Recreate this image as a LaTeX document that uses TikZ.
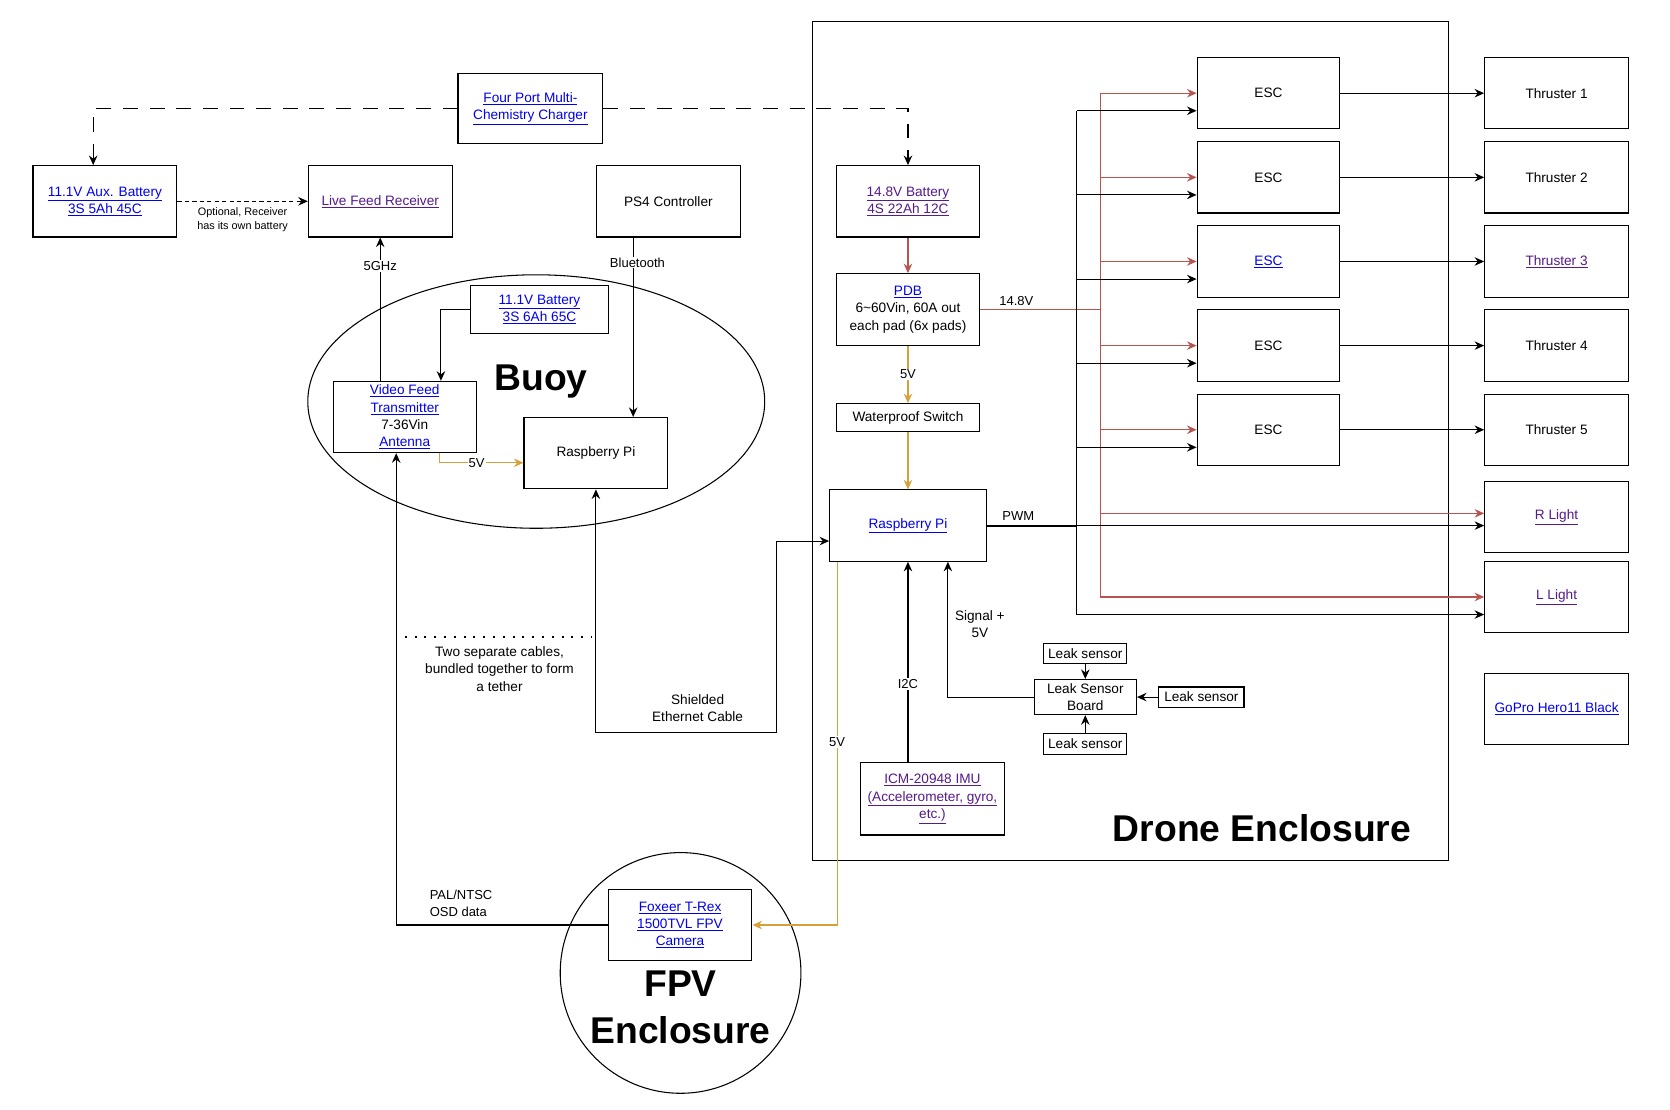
\documentclass[tikz,border=0pt]{standalone}
\usepackage{fontspec}
\setmainfont{Liberation Sans}
\usetikzlibrary{arrows.meta}
\usetikzlibrary{positioning}
\usetikzlibrary{shapes.geometric}

\definecolor{lnkblue}{HTML}{0000EE}
\definecolor{lnkvis}{HTML}{551A8B}
\definecolor{pwrred}{HTML}{B85450}
\definecolor{fiveorange}{HTML}{D6A13A}
\newcommand{\lk}[1]{\textcolor{lnkblue}{\underline{#1}}}
\newcommand{\vlk}[1]{\textcolor{lnkvis}{\underline{#1}}}
\newcommand{\boxfont}{\fontsize{12.8}{16.3}\selectfont}
\newcommand{\lblfont}{\fontsize{12.2}{15.5}\selectfont}
\newcommand{\tinyfont}{\fontsize{10.2}{13}\selectfont}
\newcommand{\bigfont}{\fontsize{35}{44}\selectfont\bfseries}

\tikzset{
  part/.style={draw,fill=white,line width=1pt,minimum width=135pt,minimum height=67pt,align=center,inner sep=1pt,font=\boxfont},
  leak/.style={part,minimum width=78pt,minimum height=19pt},
  wire/.style={line width=1pt,->},
  pwrwire/.style={wire,draw=pwrred},
  fivewire/.style={wire,draw=fiveorange},
  chgline/.style={wire,line width=1.2pt,dash pattern=on 14pt off 11pt},
  optline/.style={wire,dash pattern=on 4pt off 3pt},
  lbl/.style={fill=white,inner sep=1pt,font=\lblfont},
}

\begin{document}
\begin{tikzpicture}[x=1pt,y=-1pt,>={Stealth[length=9pt,width=8pt,inset=3pt]}]
\useasboundingbox (0,0) rectangle (1568,1042);

\node[draw,line width=1pt,minimum width=597pt,minimum height=788pt,inner sep=0] (drone) at (1061.5,414) {};
\node[draw,ellipse,line width=1pt,minimum width=429pt,minimum height=238pt,inner sep=0] (buoy) at (503.5,377) {};
\node[draw,circle,line width=1pt,minimum size=226pt,inner sep=0] (fpvenc) at (639,913.5) {};
\node[font=\bigfont] (buoytxt) at (508,358) {Buoy};
\node[font=\bigfont] (dronetxt) at (1185,778) {Drone Enclosure};
\node[font=\bigfont,align=center] (fpvtxt) at (639,946) {FPV\\Enclosure};

\node[part] (aux) at (98.5,189) {\lk{11.1V Aux. Battery}\\\lk{3S 5Ah 45C}};
\node[part] (rcv) at (357,189) {\vlk{Live Feed Receiver}};
\node[part,minimum width=136pt,minimum height=66pt] (chg) at (498,102) {\lk{Four Port Multi-}\\\lk{Chemistry Charger}};
\node[part] (ps4) at (627.5,189) {PS4 Controller};
\node[part,minimum width=129pt,minimum height=45pt] (bbat) at (506.5,290.5) {\lk{11.1V Battery}\\\lk{3S 6Ah 65C}};
\node[part,minimum width=134pt] (vtx) at (380,391.5) {\lk{Video Feed}\\\lk{Transmitter}\\7-36Vin\\\lk{Antenna}};
\node[part] (bpi) at (559.5,425.5) {Raspberry Pi};
\node[part] (cam) at (638.5,868.5) {\lk{Foxeer T-Rex}\\\lk{1500TVL FPV}\\\lk{Camera}};

\node[part] (dbat) at (852.5,189) {\vlk{14.8V Battery}\\\vlk{4S 22Ah 12C}};
\node[part] (pdb) at (852.5,290.5) {\lk{PDB}\\6\textasciitilde60Vin, 60A out\\each pad (6x pads)};
\node[part,minimum height=26pt] (wsw) at (852.5,392) {Waterproof Switch};
\node[part,minimum width=147pt] (dpi) at (852.5,493.5) {\lk{Raspberry Pi}};
\node[part,minimum height=68pt] (imu) at (875.5,750) {\vlk{ICM-20948 IMU}\\\vlk{(Accelerometer, gyro,}\\\vlk{etc.)}};
\node[part,minimum width=96pt,minimum height=33pt] (lsb) at (1019,654.5) {Leak Sensor\\Board};
\node[leak] (lsT) at (1019,613.5) {Leak sensor};
\node[leak,minimum width=80pt] (lsR) at (1128,654.5) {Leak sensor};
\node[leak] (lsB) at (1019,698.5) {Leak sensor};

\foreach \i/\yy/\esctxt/\thrtxt in {1/87.5/ESC/Thruster 1,2/166.5/ESC/Thruster 2,3/245.5/{\lk{ESC}}/{\vlk{Thruster 3}},4/324.5/ESC/Thruster 4,5/403.5/ESC/Thruster 5}{
  \node[part,minimum width=134pt] (esc\i) at (1191,\yy) {\esctxt};
  \node[part] (thr\i) at (1461.5,\yy) {\thrtxt};
  \coordinate (sig\i) at ([yshift=-16.5pt]esc\i.west);
  \draw[wire] (esc\i.east) -- (thr\i.west);
}
\node[part] (rlt) at (1461.5,485.5) {\vlk{R Light}};
\node[part] (llt) at (1461.5,560.5) {\vlk{L Light}};
\node[part] (gopro) at (1461.5,665.5) {\lk{GoPro Hero11 Black}};

% charger and top side
\draw[chgline] (chg.west) -| ([xshift=-11pt]aux.north);
\draw[chgline] (chg.east) -| (dbat.north);
\draw[optline] (aux.east) -- (rcv.west) node[midway,below=2pt,font=\tinyfont,align=center] {Optional, Receiver\\has its own battery};

% buoy
\coordinate (btin) at ([xshift=35pt]bpi.north);
\coordinate (vtxpwr) at ([xshift=33pt]vtx.south);
\coordinate (bpipwr) at ([yshift=-9pt]bpi.west);
\draw[wire] (vtx.north -| rcv.south) -- (rcv.south) node[lbl,pos=0.8] {5GHz};
\draw[wire] (bbat.west) -| ([xshift=34pt]vtx.north);
\draw[wire] (btin |- ps4.south) -- (btin) node[lbl,pos=0.14,xshift=4pt] {Bluetooth};
\draw[fivewire] (vtxpwr) |- (bpipwr) node[lbl,pos=0.72] {5V};

% tether
\coordinate (tbend) at (729,688);
\draw[wire,<->] (bpi.south) |- (tbend) |- ([yshift=-14.5pt]dpi.west);
\node[font=\boxfont,align=center] (ethlbl) at (655,665) {Shielded\\Ethernet Cable};
\draw[wire] (cam.west) -| ([xshift=-8pt]vtx.south);
\node[font=\lblfont,align=left,anchor=south west] (osdlbl) at (400,864) {PAL/NTSC\\OSD data};
\draw[line width=2pt,dash pattern=on 2pt off 7.2pt] (380,598) -- (555,598);
\node[font=\boxfont,align=center] (tetherlbl) at (469,628) {Two separate cables,\\bundled together to form\\a tether};
\draw[fivewire] ([xshift=-66.5pt]dpi.south) |- (cam.east) node[lbl,pos=0.248] {5V};

% drone power chain
\draw[pwrwire] (dbat.south) -- (pdb.north);
\draw[fivewire] (pdb.south) -- (wsw.north) node[lbl,midway] {5V};
\draw[fivewire] (wsw.south) -- (dpi.north);

% buses
\coordinate (redbus) at (1033,293);
\coordinate (blkbus) at (1011,493.5);
\coordinate (sigL) at ([yshift=-16.5pt]llt.west);
\coordinate (pwrR) at ([yshift=3.5pt]rlt.west);
\draw[pwrwire,-] (pdb.east) -- (pdb.east -| redbus) node[above,pos=0.3,font=\lblfont] {14.8V};
\draw[pwrwire,-] (redbus |- esc1.west) -- (redbus |- llt.west);
\draw[line width=1.2pt] (blkbus |- sig1) -- (blkbus |- sigL);
\draw[line width=2pt] (dpi.east) -- (dpi.east -| blkbus) node[above,pos=0.35,font=\lblfont] {PWM};
\foreach \i in {1,...,5}{
  \draw[pwrwire] (redbus |- esc\i.west) -- (esc\i.west);
  \draw[wire] (blkbus |- sig\i) -- (sig\i);
}
\draw[pwrwire] (redbus |- pwrR) -- (pwrR);
\draw[wire] (dpi.east -| blkbus) -- (dpi.east -| rlt.west);
\draw[pwrwire] (redbus |- llt.west) -- (llt.west);
\draw[wire] (blkbus |- sigL) -- (sigL);

% sensors
\draw[wire] (lsT.south) -- (lsb.north);
\draw[wire] (lsB.north) -- (lsb.south);
\draw[wire] (lsR.west) -- (lsb.east);
\draw[wire] (lsb.west) -| ([xshift=37.5pt]dpi.south);
\node[font=\boxfont,align=center] (siglbl) at (920,586) {Signal +\\5V};
\draw[wire] (imu.north -| dpi.south) -- (dpi.south) node[lbl,pos=0.39] {I2C};

\end{tikzpicture}
\end{document}
